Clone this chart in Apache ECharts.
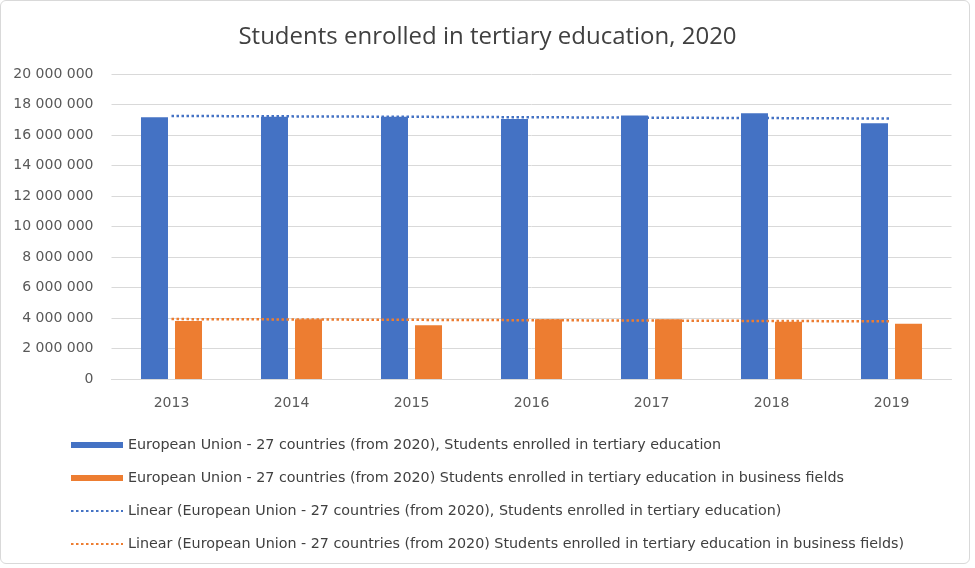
<!DOCTYPE html>
<html>
<head>
<meta charset="utf-8">
<script src="https://cdn.jsdelivr.net/npm/echarts@6/dist/echarts.min.js"></script>
<style>
html,body{margin:0;padding:0;background:#fff;}
#wrap{position:absolute;left:0;top:0;width:970px;height:564px;border:1px solid #d9d9d9;border-radius:6px;box-sizing:border-box;}
#chart{position:absolute;left:0;top:0;width:975px;height:568px;}
</style>
</head>
<body>
<div id="wrap"></div>
<div id="chart"></div>
<script>
var years = ['2013','2014','2015','2016','2017','2018','2019'];
var totalStudents = [17160000, 17200000, 17200000, 17050000, 17280000, 17420000, 16770000];
var businessStudents = [3800000, 3910000, 3520000, 3910000, 3910000, 3760000, 3630000];
// trendline endpoints (first and last year)
var totalTrend = [17250000, null, null, null, null, null, 17080000];
var businessTrend = [3930000, null, null, null, null, null, 3780000];
var seriesNames = [
  'European Union - 27 countries (from 2020), Students enrolled in tertiary education',
  'European Union - 27 countries (from 2020) Students enrolled in tertiary education in business fields',
  'Linear (European Union - 27 countries (from 2020), Students enrolled in tertiary education)',
  'Linear (European Union - 27 countries (from 2020) Students enrolled in tertiary education in business fields)'
];
var titleText = 'Students enrolled in tertiary education, 2020';

var FONT = 'DejaVu Sans';
var chart = echarts.init(document.getElementById('chart'));
function fmt(v){ return String(v).replace(/\B(?=(\d{3})+(?!\d))/g, ' '); }
chart.setOption({
  animation: false,
  title: {
    text: titleText, left: 'center', top: 20,
    textStyle: {fontFamily: 'Open Sans', fontSize: 24, fontWeight: 'normal', color: '#404040'}
  },
  legend: {
    orient: 'vertical', left: 65, top: 432,
    itemWidth: 52, itemHeight: 6, itemGap: 17,
    textStyle: {fontFamily: FONT, fontSize: 14.3, color: '#404040', lineHeight: 16},
    data: [
      {name: seriesNames[0], icon: 'rect'},
      {name: seriesNames[1], icon: 'rect'},
      {name: seriesNames[2], itemStyle: {opacity: 0}},
      {name: seriesNames[3], itemStyle: {opacity: 0}}
    ]
  },
  grid: {left: 111.5, right: 23.5, top: 74, bottom: 189, containLabel: false},
  xAxis: {
    type: 'category', data: years,
    axisLine: {lineStyle: {color: '#d9d9d9'}},
    axisTick: {show: false},
    axisLabel: {fontFamily: FONT, fontSize: 14, color: '#595959', margin: 17}
  },
  yAxis: {
    type: 'value', min: 0, max: 20000000, interval: 2000000,
    axisLine: {show: false}, axisTick: {show: false},
    splitLine: {lineStyle: {color: '#d9d9d9', width: 1}},
    axisLabel: {fontFamily: FONT, fontSize: 14, color: '#595959', margin: 18, formatter: fmt}
  },
  series: [
    {name: seriesNames[0], type: 'bar', data: totalStudents, barWidth: 27, barGap: '26%',
     itemStyle: {color: '#4472C4'}},
    {name: seriesNames[1], type: 'bar', data: businessStudents, barWidth: 27, barGap: '26%',
     itemStyle: {color: '#ED7D31'}},
    {name: seriesNames[2], type: 'line', data: totalTrend, connectNulls: true, symbol: 'none', z: 5,
     lineStyle: {color: '#4472C4', width: 2.5, type: [2.5, 2.5]}, itemStyle: {color: '#4472C4'}},
    {name: seriesNames[3], type: 'line', data: businessTrend, connectNulls: true, symbol: 'none', z: 5,
     lineStyle: {color: '#ED7D31', width: 2.5, type: [2.5, 2.5]}, itemStyle: {color: '#ED7D31'}}
  ]
});
</script>
</body>
</html>
